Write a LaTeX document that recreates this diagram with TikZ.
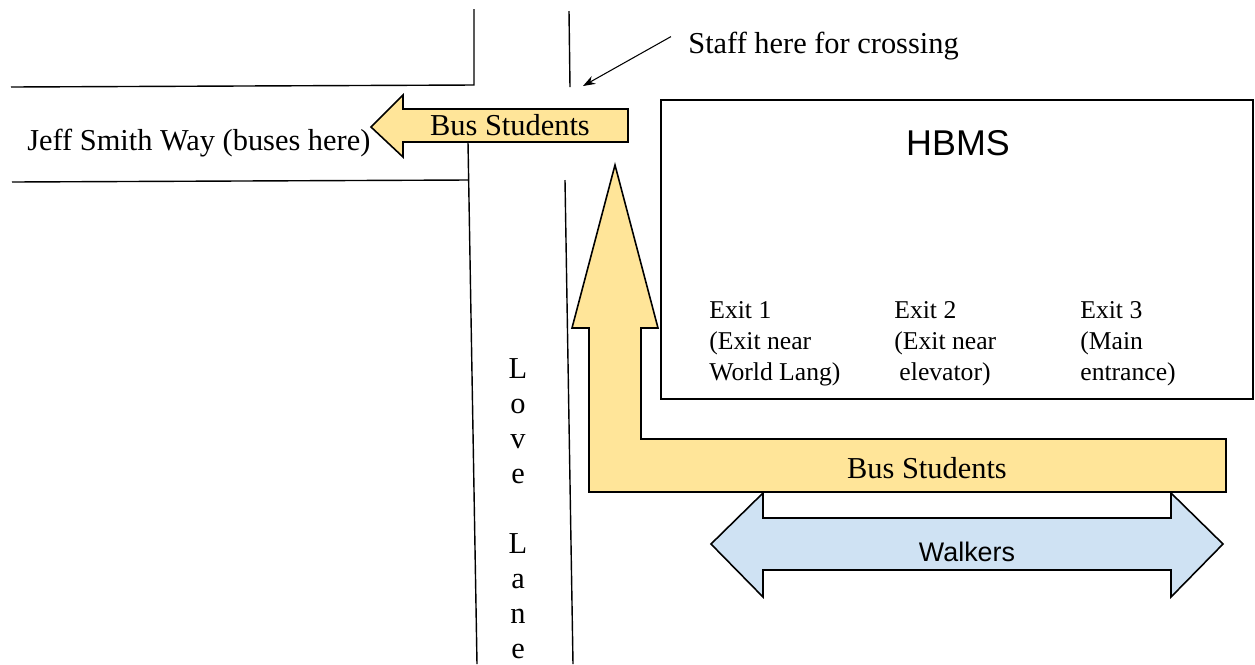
\documentclass[tikz,border=0pt]{standalone}
\usepackage{fontspec}
\setmainfont{Liberation Serif}
\newfontfamily\arialfont{Liberation Sans}
\usetikzlibrary{arrows.meta}

\definecolor{busyellow}{RGB}{255,229,153}
\definecolor{walkblue}{RGB}{207,226,243}

\begin{document}
\begin{tikzpicture}[x=0.02cm, y=-0.02cm, >={Stealth[length=7pt,width=5pt]},
    street/.style={line width=0.8pt},
    flow/.style={draw, line width=0.9pt, line join=miter},
    lbl/.style={font=\fontsize{17.3}{20}\selectfont, inner sep=0pt},
    exitlbl/.style={font=\fontsize{14.6}{17.6}\selectfont, align=left, anchor=north west, inner sep=0pt}]
    \useasboundingbox (0,0) rectangle (1255,664);

    % Streets
    \draw [street] (11,87) -- (474,85) -- (474,9);
    \draw [street] (569,11) -- (570,87);
    \draw [street] (12,182) -- (468,180);
    \draw [street] (468,142) -- (477,664);
    \draw [street] (565,180) -- (573,664);

    % Building
    \draw [line width=1.4pt] (661,100) rectangle (1253,399);
    \node [inner sep=0pt, anchor=base, font=\arialfont\fontsize{20.4}{24}\selectfont] (hbms) at (958,155) {HBMS};
    \node [exitlbl] (exit1) at (709,301) {Exit 1\\(Exit near\\World Lang)};
    \node [exitlbl] (exit2) at (894,301) {Exit 2\\(Exit near\\\hspace{0.2em}elevator)};
    \node [exitlbl] (exit3) at (1080,301) {Exit 3\\(Main\\entrance)};

    % Bus students
    \draw [flow, fill=busyellow] (628,109) -- (403,109) -- (403,95) -- (371,127)
        -- (403,157) -- (403,142) -- (628,142) -- cycle;
    \draw [flow, fill=busyellow] (589,492) -- (1226,492) -- (1226,439) -- (641,439)
        -- (641,328) -- (658,328) -- (615,165) -- (572,328) -- (589,328) -- cycle;
    \node [lbl, anchor=base] (bustop) at (510,135) {Bus Students};
    \node [lbl, anchor=base] (busbottom) at (927,478) {Bus Students};

    % Walkers
    \draw [flow, fill=walkblue] (711,544) -- (763,493) -- (763,518) -- (1171,518)
        -- (1171,493) -- (1223,544) -- (1171,597) -- (1171,570) -- (763,570)
        -- (763,597) -- cycle;
    \node [inner sep=0pt, anchor=base, font=\arialfont\fontsize{15.3}{18}\selectfont] (walkers) at (967,561) {Walkers};

    % Street names
    \node [lbl, anchor=base west] (jeff) at (27,150) {Jeff Smith Way (buses here)};
    \foreach \ch [count=\i from 0] in {L,o,v,e,{},L,a,n,e}
        \node [lbl, anchor=base] (love\i) at (518,378+35*\i) {\ch};

    % Crossing
    \node [lbl, anchor=base west] (staff) at (688,53) {Staff here for crossing};
    \coordinate (cross) at (583,86);
    \draw [->, line width=0.6pt] (staff.west) ++(-17,-9) -- (cross);

\end{tikzpicture}
\end{document}
